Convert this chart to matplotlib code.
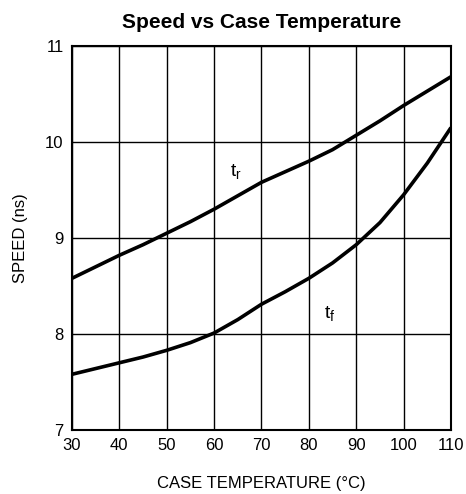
import matplotlib
matplotlib.use("Agg")
import matplotlib.pyplot as plt

plt.rcParams['font.family'] = ['Liberation Sans', 'DejaVu Sans']

temp = [30, 35, 40, 45, 50, 55, 60, 65, 70, 75, 80, 85, 90, 95, 100, 105, 110]
t_r = [8.58, 8.70, 8.82, 8.93, 9.05, 9.17, 9.30, 9.44, 9.58, 9.69, 9.80, 9.92, 10.07, 10.22, 10.38, 10.53, 10.68]
t_f = [7.58, 7.64, 7.70, 7.76, 7.83, 7.91, 8.01, 8.15, 8.31, 8.44, 8.58, 8.74, 8.93, 9.16, 9.45, 9.78, 10.15]

xticks = [30, 40, 50, 60, 70, 80, 90, 100, 110]
yticks = [7, 8, 9, 10, 11]

fig = plt.figure(figsize=(4.66, 4.94), dpi=100)
ax = fig.add_axes([0.1545, 0.1296, 0.8133, 0.7773])
ax.plot(temp, t_r, color='black', lw=2.6, solid_capstyle='butt')
ax.plot(temp, t_f, color='black', lw=2.6, solid_capstyle='butt')
ax.set_xlim(30, 110)
ax.set_ylim(7, 11)
ax.set_xticks(xticks)
ax.set_yticks(yticks)
ax.grid(True, color='black', lw=1.0)
for s in ax.spines.values():
    s.set_linewidth(1.5)
ax.tick_params(length=0, labelsize=12, pad=6)
ax.text(64.6, 9.69, r'$\mathregular{t_r}$', fontsize=14, ha='center', va='center')
ax.text(84.5, 8.21, r'$\mathregular{t_f}$', fontsize=14, ha='center', va='center')
ax.set_title('Speed vs Case Temperature', fontsize=15, fontweight='bold', pad=13)
ax.set_xlabel('CASE TEMPERATURE (°C)', fontsize=12, labelpad=16)
ax.set_ylabel('SPEED (ns)', fontsize=12, labelpad=12)
fig.savefig('out.png', dpi=100)
